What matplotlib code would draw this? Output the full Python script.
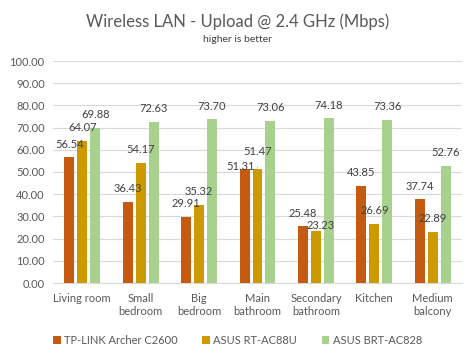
import numpy as np
import matplotlib
matplotlib.use("Agg")
import matplotlib.pyplot as plt

plt.rcParams["font.family"] = ["Lato", "DejaVu Sans"]

categories = ["Living room", "Small\nbedroom", "Big\nbedroom", "Main\nbathroom",
              "Secondary\nbathroom", "Kitchen", "Medium\nbalcony"]
series_names = ["TP-LINK Archer C2600", "ASUS RT-AC88U", "ASUS BRT-AC828"]
tplink = [56.54, 36.43, 29.91, 51.31, 25.48, 43.85, 37.74]
asus_rt = [64.07, 54.17, 35.32, 51.47, 23.23, 26.69, 22.89]
asus_brt = [69.88, 72.63, 73.70, 73.06, 74.18, 73.36, 52.76]
colors = ["#C55A11", "#CC9900", "#A9D18E"]

text_color = "#595959"
label_color = "#404040"

fig = plt.figure(figsize=(4.75, 3.6), dpi=100)
ax = fig.add_axes([53 / 475, 1 - 283 / 360, 409 / 475, 222 / 360])

x = np.arange(len(categories))
width = 0.171
step = 0.222
for i, (vals, col, name) in enumerate(zip([tplink, asus_rt, asus_brt], colors, series_names)):
    pos = x + (i - 1) * step
    ax.bar(pos, vals, width=width, color=col, label=name, zorder=3)
    for p, v in zip(pos, vals):
        dx, dy = 0, 9.5
        arrow = None
        # a few labels that Excel nudged to avoid overlaps
        if name == "ASUS RT-AC88U" and v == 23.23:
            dx, dy = 3, 4.5
        if name == "ASUS RT-AC88U" and v == 51.47:
            dy = 12.5
            arrow = dict(arrowstyle="-", color="#BFBFBF", lw=0.6, shrinkA=5, shrinkB=0)
        if name == "TP-LINK Archer C2600" and v == 51.31:
            dx, dy = -3, 2
        ax.annotate(f"{v:.2f}", (p, v), xytext=(dx, dy), textcoords="offset points",
                    ha="center", va="center", fontsize=8, color=label_color, zorder=4,
                    arrowprops=arrow)

ax.set_xlim(-0.5, len(categories) - 0.5)
ax.set_ylim(0, 100)
ax.set_yticks(np.arange(0, 101, 10))
ax.set_yticklabels([f"{v:.2f}" for v in np.arange(0, 101, 10)])
ax.set_xticks(x)
ax.set_xticklabels(categories, linespacing=1.2)
ax.tick_params(axis="both", length=0, colors=text_color, labelsize=8)
ax.tick_params(axis="x", pad=7)
ax.tick_params(axis="y", pad=6)
ax.grid(axis="y", color="#D9D9D9", linewidth=0.8, zorder=0)
for s in ["top", "right", "left"]:
    ax.spines[s].set_visible(False)
ax.spines["bottom"].set_color("#D9D9D9")

fig.text(0.5, 1 - 22 / 360, "Wireless LAN - Upload @ 2.4 GHz (Mbps)", ha="center",
         va="center", fontsize=12, color=text_color)
fig.text(0.5, 1 - 39 / 360, "higher is better", ha="center", va="center",
         fontsize=7.5, color=label_color)

fig.legend(loc="center", bbox_to_anchor=(0.5, 1 - 340 / 360), ncol=3, frameon=False,
           fontsize=8, labelcolor=text_color, handlelength=0.7, handleheight=0.7,
           handletextpad=0.3, columnspacing=2.2)

fig.savefig("out.png", dpi=100)
